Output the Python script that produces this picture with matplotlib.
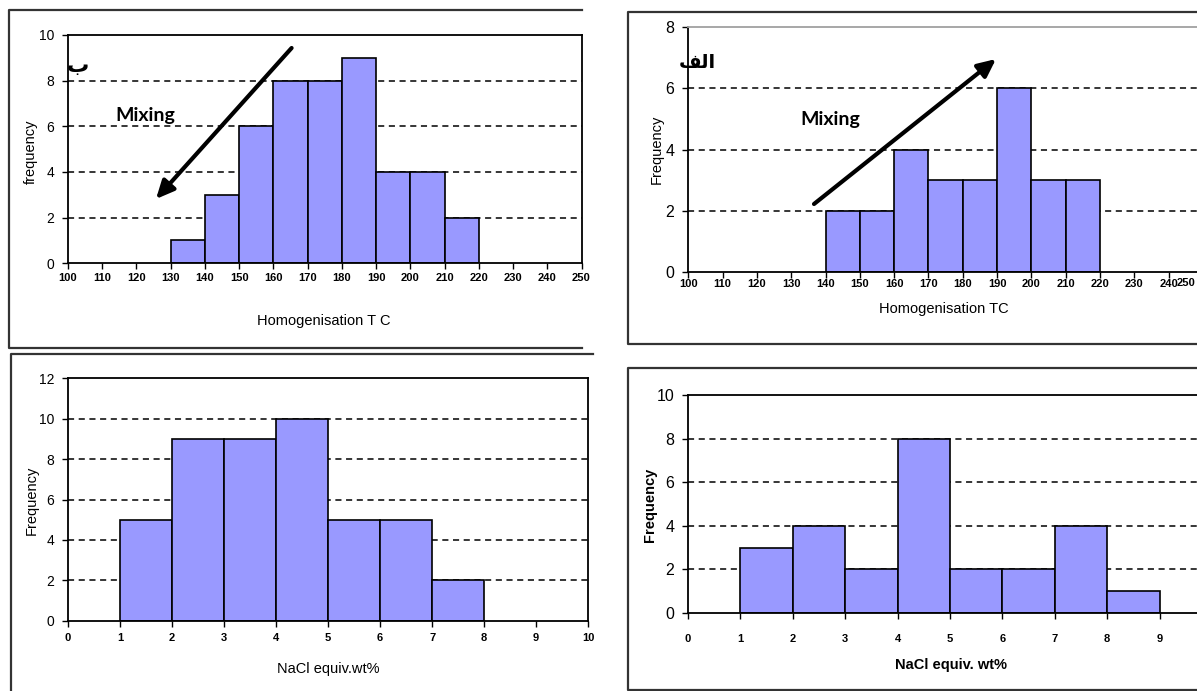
import matplotlib
matplotlib.use('Agg')
import matplotlib.pyplot as plt
from matplotlib.transforms import Affine2D
from matplotlib.lines import Line2D
from matplotlib.text import Annotation

# ---- data ----
# homogenisation temperature (deg C), bin left edges and counts
th_ticks = [100, 110, 120, 130, 140, 150, 160, 170, 180, 190, 200, 210, 220, 230, 240, 250]
th_left_b = [130, 140, 150, 160, 170, 180, 190, 200, 210]
th_count_b = [1, 3, 6, 8, 8, 9, 4, 4, 2]
th_left_a = [140, 150, 160, 170, 180, 190, 200, 210]
th_count_a = [2, 2, 4, 3, 3, 6, 3, 3]

# salinity (NaCl equiv. wt%), bin left edges and counts
sal_ticks = [0, 1, 2, 3, 4, 5, 6, 7, 8, 9, 10]
sal_left_b = [1, 2, 3, 4, 5, 6, 7]
sal_count_b = [5, 9, 9, 10, 5, 5, 2]
sal_left_a = [1, 2, 3, 4, 5, 6, 7, 8]
sal_count_a = [3, 4, 2, 8, 2, 2, 4, 1]

yticks_th_b = [0, 2, 4, 6, 8, 10]
yticks_th_a = [0, 2, 4, 6, 8]
yticks_sal_b = [0, 2, 4, 6, 8, 10, 12]
yticks_sal_a = [0, 2, 4, 6, 8, 10]

# panel letters (Arabic, drawn in visual order with presentation forms
# because matplotlib does no Arabic shaping)
label_b = "\u0628"                 # ب
label_a = "\ufed2\ufedf\ufe8d"     # الف

BAR = '#9999ff'
NARROW = ['Liberation Sans', 'DejaVu Sans']
W, H = 1197, 691

fig = plt.figure(figsize=(W / 100, H / 100), dpi=100)
# pixel coordinates measured from the top-left corner of the picture
pix = Affine2D().scale(1 / W, -1 / H).translate(0, 1) + fig.transFigure


def px_box(x0, y0, x1, y1):
    return [x0 / W, 1 - y1 / H, (x1 - x0) / W, (y1 - y0) / H]


def frame(xs, ys):
    fig.add_artist(Line2D(xs, ys, transform=pix, color='#333333', lw=1.6))


def draw_hist(box, lefts, counts, width, xticks, yticks, xlabel, ylabel,
              xlab_pos, ylab_pos, ytick_size=10, xpad=2, bold_labels=False,
              top_color='black', hide_last_x=False):
    ax = fig.add_axes(px_box(*box))
    ax.bar(lefts, counts, width=width, align='edge', color=BAR,
           edgecolor='black', linewidth=1.2, zorder=2)
    for y in yticks[1:-1]:
        ax.axhline(y, color='black', lw=1.1, ls=(0, (4, 3)), zorder=1)
    ax.set_xlim(xticks[0], xticks[-1])
    ax.set_ylim(yticks[0], yticks[-1])
    ax.set_xticks(xticks)
    ax.set_yticks(yticks)
    xlabels = [str(t) for t in xticks]
    if hide_last_x:
        # the last label falls beyond the right edge of the picture
        xlabels[-1] = ''
    ax.set_xticklabels(xlabels, family=NARROW, fontsize=8, fontweight='bold')
    ax.set_yticklabels([str(t) for t in yticks], family=NARROW,
                       fontsize=ytick_size)
    ax.tick_params(axis='x', direction='out', length=4, width=1, pad=xpad)
    ax.tick_params(axis='y', direction='out', length=4, width=1, pad=6)
    for side in ['left', 'bottom', 'right', 'top']:
        ax.spines[side].set_linewidth(1.3)
    ax.spines['top'].set_color(top_color)

    weight = 'bold' if bold_labels else 'normal'
    ax.set_xlabel(xlabel, family=NARROW, fontsize=10.5, fontweight=weight)
    ax.set_ylabel(ylabel, family=NARROW, fontsize=10.5, fontweight=weight)
    ax.xaxis.label.set_va('center')
    ax.yaxis.label.set_va('center')
    ax.xaxis.set_label_coords(xlab_pos[0] / W, 1 - xlab_pos[1] / H,
                              transform=fig.transFigure)
    ax.yaxis.set_label_coords(ylab_pos[0] / W, 1 - ylab_pos[1] / H,
                              transform=fig.transFigure)
    return ax


# outer frames around each chart
frame([582, 8.5, 8.5, 582], [10, 10, 348, 348])
frame([593, 10.7, 10.7], [354, 354, 700])
frame([1205, 627.6, 627.6, 1205], [12.5, 12.5, 344, 344])
frame([1205, 627.6, 627.6, 1205], [368.3, 368.3, 690, 690])

# top left: Th histogram (ب)
ax1 = draw_hist((68, 35, 581.5, 263.3), th_left_b, th_count_b, 10, th_ticks,
                yticks_th_b, 'Homogenisation T C', 'frequency',
                (324, 321), (31, 152), ytick_size=10, xpad=3)

# top right: Th histogram (الف); its 250 label sits at the picture edge,
# so it is drawn separately, pulled in to stay whole
ax2 = draw_hist((688.3, 26.7, 1203, 272.3), th_left_a, th_count_a, 10, th_ticks,
                yticks_th_a, 'Homogenisation TC', 'Frequency',
                (944, 309), (657, 149), ytick_size=11.5, xpad=1,
                top_color='#a0a0a0', hide_last_x=True)
fig.text(1195, 278.5, str(th_ticks[-1]), transform=pix, family=NARROW,
         fontsize=8, fontweight='bold', ha='right', va='top')

# bottom left: salinity histogram
ax3 = draw_hist((68, 378.3, 588.2, 620.7), sal_left_b, sal_count_b, 1, sal_ticks,
                yticks_sal_b, 'NaCl equiv.wt%', 'Frequency',
                (328, 669), (32, 500), ytick_size=10, xpad=5)

# bottom right: salinity histogram
ax4 = draw_hist((688.1, 395, 1212, 613), sal_left_a, sal_count_a, 1, sal_ticks,
                yticks_sal_a, 'NaCl equiv. wt%', 'Frequency',
                (951, 665), (650, 505), ytick_size=11.5, xpad=11,
                bold_labels=True, hide_last_x=True)

# panel letters
fig.text(78, 66, label_b, transform=pix, family='DejaVu Sans', fontsize=16,
         fontweight='bold', ha='center', va='center')
fig.text(697, 62, label_a, transform=pix, family='DejaVu Sans', fontsize=14,
         fontweight='bold', ha='center', va='center')

# "Mixing" arrows
arrow = dict(arrowstyle='-|>,head_length=0.6,head_width=0.28',
             color='black', lw=3, mutation_scale=18, shrinkA=0, shrinkB=0)
fig.add_artist(Annotation('', xy=(156, 199), xytext=(291.6, 48),
                          xycoords=pix, textcoords=pix, arrowprops=arrow))
fig.add_artist(Annotation('', xy=(996, 59), xytext=(814, 204),
                          xycoords=pix, textcoords=pix, arrowprops=arrow))
fig.text(145.5, 116, 'Mixing', transform=pix, family='Lato', fontsize=14,
         fontweight='bold', ha='center', va='center')
fig.text(830, 120, 'Mixing', transform=pix, family='Lato', fontsize=14,
         fontweight='bold', ha='center', va='center')

fig.savefig('out.png', dpi=100)
